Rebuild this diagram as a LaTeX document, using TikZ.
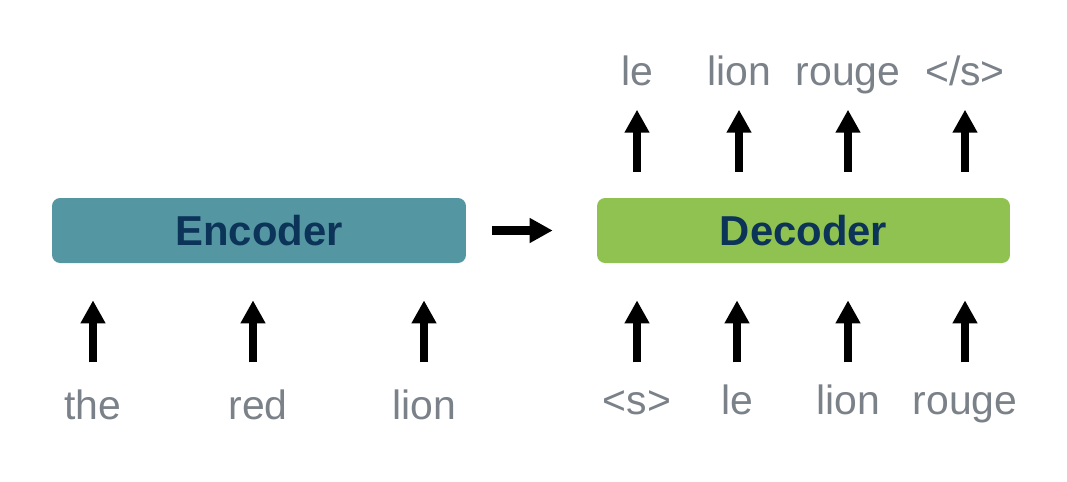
\documentclass[tikz,border=0pt]{standalone}
\usepackage{fontspec}
\setmainfont{Liberation Sans}
\usepackage{tikz}
\usetikzlibrary{arrows.meta}
\definecolor{enccol}{HTML}{5596A3}
\definecolor{deccol}{HTML}{8FC250}
\definecolor{navy}{HTML}{0C3358}
\definecolor{wordgray}{HTML}{7B8189}
\tikzset{line/.style={draw, line width=0.17cm, -{Triangle[length=0.46cm, width=0.47cm]}}}

\begin{document}
\begin{tikzpicture}[x=0.02cm, y=-0.02cm]
\tikzstyle{block} = [rectangle, rounded corners=0.16cm, minimum height=1.3cm, text=navy, font=\fontsize{23.8}{28}\selectfont\bfseries]
\tikzstyle{word} = [anchor=base, inner sep=0pt, text=wordgray, font=\fontsize{23.3}{28}\selectfont]

\useasboundingbox (0,0) rectangle (1067,481);

\node [block, fill=enccol, minimum width=8.28cm](enc) at (259,230.5){Encoder};
\node [block, fill=deccol, minimum width=8.26cm](dec) at (803.5,230.5){Decoder};

\node [word](the) at (93,419){the};
\node [word](red) at (258,419){red};
\node [word](lion) at (424,419){lion};

\node [word](s) at (637,414){<s>};
\node [word](le) at (737,414){le};
\node [word](lion2) at (848,414){lion};
\node [word](rouge) at (965,414){rouge};

\node [word](le3) at (637,85){le};
\node [word](lion3) at (739,85){lion};
\node [word](rouge3) at (848,85){rouge};
\node [word](es) at (965,85){</s>};


\path [line] ([yshift=-1.98cm]enc.south -| the) -- ([yshift=-0.74cm]enc.south -| the);
\path [line] ([yshift=-1.98cm, xshift=-0.1cm]enc.south -| red) -- ([yshift=-0.74cm, xshift=-0.1cm]enc.south -| red);
\path [line] ([yshift=-1.98cm]enc.south -| lion) -- ([yshift=-0.74cm]enc.south -| lion);

\path [line] ([yshift=-1.98cm]dec.south -| s) -- ([yshift=-0.74cm]dec.south -| s);
\path [line] ([yshift=-1.98cm]dec.south -| le) -- ([yshift=-0.74cm]dec.south -| le);
\path [line] ([yshift=-1.98cm]dec.south -| lion2) -- ([yshift=-0.74cm]dec.south -| lion2);
\path [line] ([yshift=-1.98cm]dec.south -| rouge) -- ([yshift=-0.74cm]dec.south -| rouge);

\path [line] ([yshift=0.52cm]dec.north -| le3) -- ([yshift=1.76cm]dec.north -| le3);
\path [line] ([yshift=0.52cm]dec.north -| lion3) -- ([yshift=1.76cm]dec.north -| lion3);
\path [line] ([yshift=0.52cm]dec.north -| rouge3) -- ([yshift=1.76cm]dec.north -| rouge3);
\path [line] ([yshift=0.52cm]dec.north -| es) -- ([yshift=1.76cm]dec.north -| es);

\path [line, shorten <=0.52cm, shorten >=0.88cm] (enc) -- (dec);


\end{tikzpicture}
\end{document}
